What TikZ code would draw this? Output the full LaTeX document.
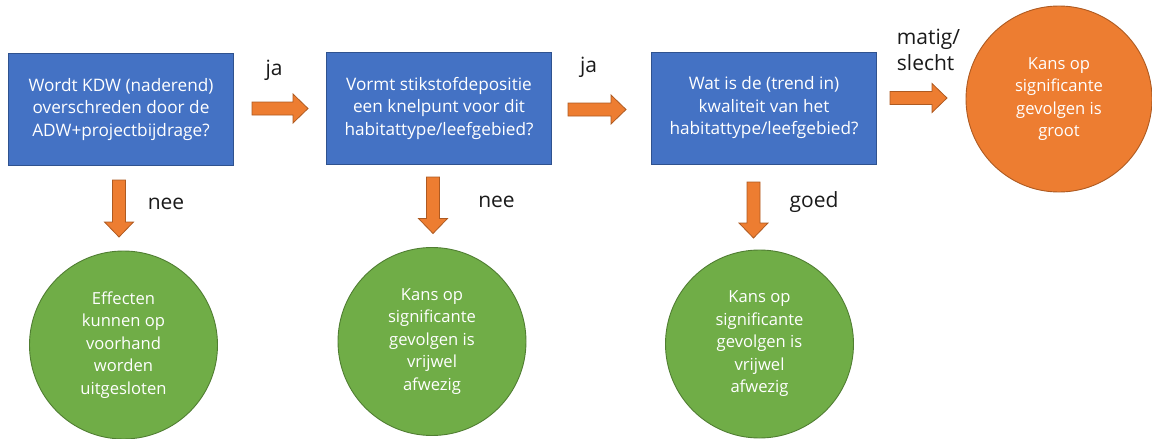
\documentclass[tikz,border=0pt]{standalone}
\usepackage{fontspec}
\setmainfont{Open Sans}
\usetikzlibrary{calc}
\definecolor{boxblue}{HTML}{4472C4}
\definecolor{boxblueline}{HTML}{2F528F}
\definecolor{arrorange}{HTML}{ED7D31}
\definecolor{arrorangeline}{HTML}{AE5A21}
\definecolor{circgreen}{HTML}{70AD47}
\definecolor{circgreenline}{HTML}{507E32}
\definecolor{labeltext}{HTML}{1A1A1A}
\tikzset{
  qbox/.style={draw=boxblueline, line width=0.9pt, fill=boxblue, text=white,
    minimum width=225pt, minimum height=112pt, inner sep=0pt, align=center,
    font=\fontsize{17.2}{22.5}\selectfont},
  gcirc/.style={circle, draw=circgreenline, line width=0.9pt, fill=circgreen, text=white,
    minimum size=188pt, inner sep=0pt, align=center,
    font=\fontsize{16.6}{22.5}\selectfont},
  ocirc/.style={gcirc, draw=arrorangeline, fill=arrorange, minimum size=186pt},
  lbl/.style={text=labeltext, inner sep=0pt, align=left,
    font=\fontsize{21}{26}\selectfont},
  blockarrow/.style={draw=arrorangeline, line width=0.8pt, fill=arrorange, line join=miter},
  harrow/.style={blockarrow, to path={let \p1=(\tikztostart), \p2=(\tikztotarget) in
    (\x1,\y1-6.5pt) -- (\x2-15pt,\y1-6.5pt) -- (\x2-15pt,\y1-14.5pt) -- (\x2,\y1)
    -- (\x2-15pt,\y1+14.5pt) -- (\x2-15pt,\y1+6.5pt) -- (\x1,\y1+6.5pt) -- cycle}},
  varrow/.style={blockarrow, to path={let \p1=(\tikztostart), \p2=(\tikztotarget) in
    (\x1-6.5pt,\y1) -- (\x1-6.5pt,\y2+15pt) -- (\x1-14.5pt,\y2+15pt) -- (\x1,\y2)
    -- (\x1+14.5pt,\y2+15pt) -- (\x1+6.5pt,\y2+15pt) -- (\x1+6.5pt,\y1) -- cycle}},
}
\begin{document}
\begin{tikzpicture}[x=1pt,y=-1pt]
\useasboundingbox (0,0) rectangle (1152,439);
% question boxes
\node[qbox] (q1) at (121,109.5) {Wordt KDW (naderend)\\overschreden door de\\ADW+projectbijdrage?};
\node[qbox] (q2) at (439,108) {Vormt stikstofdepositie\\een knelpunt voor dit\\habitattype/leefgebied?};
\node[qbox] (q3) at (764,108) {Wat is de (trend in)\\kwaliteit van het\\habitattype/leefgebied?};
% outcome circles
\node[gcirc] (o1) at (123.5,345) {Effecten\\kunnen op\\voorhand\\worden\\uitgesloten};
\node[gcirc] (o2) at (432,341.5) {Kans op\\significante\\gevolgen is\\vrijwel\\afwezig};
\node[gcirc] (o3) at (759.5,344) {Kans op\\significante\\gevolgen is\\vrijwel\\afwezig};
\node[ocirc] (o4) at (1059,99) {Kans op\\significante\\gevolgen is\\groot};
% arrow end points
\coordinate (h1s) at (252,108.5); \coordinate (h1e) at (308,108.5);
\coordinate (h2s) at (568,109.5); \coordinate (h2e) at (626,109.5);
\coordinate (h3s) at (890,98);    \coordinate (h3e) at (947,98);
\coordinate (v1s) at (119,180);   \coordinate (v1e) at (119,237);
\coordinate (v2s) at (433,177);   \coordinate (v2e) at (433,233.5);
\coordinate (v3s) at (753.5,182); \coordinate (v3e) at (753.5,238);
\draw[harrow] (h1s) to (h1e);
\draw[harrow] (h2s) to (h2e);
\draw[harrow] (h3s) to (h3e);
\draw[varrow] (v1s) to (v1e);
\draw[varrow] (v2s) to (v2e);
\draw[varrow] (v3s) to (v3e);
% labels
\node[lbl] (l1) at (274,70) {ja};
\node[lbl] (l2) at (588.5,67) {ja};
\node[lbl] (l3) at (928.5,50) {matig/\\slecht};
\node[lbl] (l4) at (166,204) {nee};
\node[lbl] (l5) at (496.5,202) {nee};
\node[lbl] (l6) at (814,202) {goed};
\end{tikzpicture}
\end{document}
